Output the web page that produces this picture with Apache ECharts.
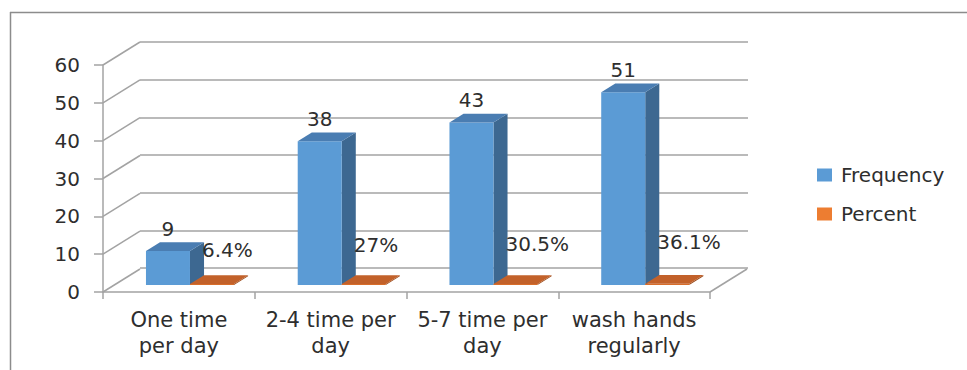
<!DOCTYPE html>
<html>
<head>
<meta charset="utf-8">
<script src="https://cdn.jsdelivr.net/npm/echarts@6/dist/echarts.min.js"></script>
<style>
  html, body { margin: 0; padding: 0; background: #fff; }
  #chart { width: 967px; height: 370px; }
</style>
</head>
<body>
<div id="chart"></div>
<script>
// Hand-washing frequency: counts and shares per category
const categories = ['One time\nper day', '2-4 time per\nday', '5-7 time per\nday', 'wash hands\nregularly'];
const frequency = [9, 38, 43, 51];
const percent = [0.064, 0.27, 0.305, 0.361];
const yTicks = [0, 10, 20, 30, 40, 50, 60];

// Front plane (axes) and back wall of the pseudo-3D box, in pixels
const FRONT = { left: 103, top: 65, width: 607, height: 227 };
const BACK = { left: 140, top: 42, width: 608, height: 226 };
const DX = BACK.left - FRONT.left;
const DY = BACK.top - FRONT.top;
const Z0 = 0.3;        // depth at which the bars stand (fraction of box depth)
const ZD = 0.38;       // bar depth (fraction of box depth)
const BAR_FRAC = 0.29; // bar width as fraction of a category band

const GRID_COLOR = '#a3a3a3';
const TEXT = '#2e2e2e';
const FONT = 'DejaVu Sans';

function barGeom(api, rightSide) {
  const i = api.value(0), v = api.value(1);
  const base = api.coord([i, 0]);
  const top = api.coord([i, v]);
  const w = api.size([1, 0])[0] * BAR_FRAC;
  const x0 = (rightSide ? base[0] : base[0] - w) + DX * Z0;
  return {
    v: v, x0: x0, x1: x0 + w, w: w,
    yb: base[1] + DY * Z0,
    yt: top[1] + DY * Z0,
    dx: DX * ZD, dy: DY * ZD
  };
}

function boxChildren(g, front, side, topC) {
  const h = Math.max(g.yb - g.yt, 1);
  const yt = g.yb - h;
  return [
    { type: 'polygon', shape: { points: [[g.x1, yt], [g.x1 + g.dx, yt + g.dy], [g.x1 + g.dx, g.yb + g.dy], [g.x1, g.yb]] }, style: { fill: side } },
    { type: 'rect', shape: { x: g.x0, y: yt, width: g.w, height: h }, style: { fill: front } },
    { type: 'polygon', shape: { points: [[g.x0, yt], [g.x0 + g.dx, yt + g.dy], [g.x1 + g.dx, yt + g.dy], [g.x1, yt]] }, style: { fill: topC } }
  ];
}

const freqData = frequency.map((v, i) => [i, v]);
const pctData = percent.map((v, i) => [i, v]);
const tickData = yTicks.map(v => [0, v]);

const chart = echarts.init(document.getElementById('chart'), null, { renderer: 'svg' });

chart.setOption({
  backgroundColor: '#fff',
  animation: false,
  textStyle: { fontFamily: FONT, color: TEXT },
  graphic: [
    { type: 'line', shape: { x1: 10, y1: 12.5, x2: 967, y2: 12.5 }, style: { stroke: '#8c8c8c', lineWidth: 1.5 }, silent: true },
    { type: 'line', shape: { x1: 10.5, y1: 12, x2: 10.5, y2: 370 }, style: { stroke: '#8c8c8c', lineWidth: 1.5 }, silent: true }
  ],
  legend: {
    data: ['Frequency', 'Percent'],
    orient: 'vertical',
    left: 812,
    top: 160,
    icon: 'rect',
    itemWidth: 15,
    itemHeight: 13,
    itemGap: 19,
    textStyle: { fontSize: 20, fontFamily: FONT, color: TEXT, padding: [0, 0, 0, 4] }
  },
  grid: [
    { left: FRONT.left, top: FRONT.top, width: FRONT.width, height: FRONT.height },
    { left: BACK.left, top: BACK.top, width: BACK.width, height: BACK.height }
  ],
  xAxis: [
    {
      type: 'category', gridIndex: 0, data: categories,
      axisLine: { show: true, lineStyle: { color: GRID_COLOR, width: 1.5 } },
      axisTick: { show: true, length: 7, lineStyle: { color: GRID_COLOR, width: 1.5 } },
      axisLabel: { fontSize: 21, fontFamily: FONT, color: TEXT, lineHeight: 26, margin: 15, interval: 0 }
    },
    { type: 'category', gridIndex: 1, data: categories, show: false }
  ],
  yAxis: [
    {
      type: 'value', gridIndex: 0, min: 0, max: 60, interval: 10,
      axisLine: { show: true, lineStyle: { color: GRID_COLOR, width: 1.5 } },
      axisTick: { show: true, length: 9, lineStyle: { color: GRID_COLOR, width: 1.5 } },
      axisLabel: { fontSize: 20, fontFamily: FONT, color: TEXT, margin: 23 },
      splitLine: { show: false }
    },
    {
      type: 'value', gridIndex: 1, min: 0, max: 60, interval: 10,
      axisLine: { show: false }, axisTick: { show: false }, axisLabel: { show: false },
      splitLine: { show: true, lineStyle: { color: GRID_COLOR, width: 1.5 } }
    }
  ],
  series: [
    {
      // side-wall and floor edges joining the front axis to the back wall
      name: 'walls', type: 'custom', xAxisIndex: 0, yAxisIndex: 0, silent: true,
      data: tickData, encode: { x: 0, y: 1 }, z: 1,
      renderItem: function (params, api) {
        const cs = params.coordSys;
        const y = api.coord([0, api.value(1)])[1];
        const style = { stroke: GRID_COLOR, lineWidth: 1.5 };
        const children = [{ type: 'line', shape: { x1: cs.x, y1: y, x2: cs.x + DX, y2: y + DY }, style: style }];
        if (api.value(1) === 0) {
          children.push({ type: 'line', shape: { x1: cs.x + cs.width, y1: y, x2: cs.x + cs.width + DX, y2: y + DY }, style: style });
        }
        return { type: 'group', children: children };
      }
    },
    {
      name: 'Frequency', type: 'custom', xAxisIndex: 0, yAxisIndex: 0,
      itemStyle: { color: '#5B9BD5' },
      data: freqData, encode: { x: 0, y: 1 }, z: 3,
      renderItem: function (params, api) {
        const g = barGeom(api, false);
        const children = boxChildren(g, '#5B9BD5', '#3d6891', '#4a7db2');
        children.push({
          type: 'text', x: (g.x0 + g.x1) / 2, y: g.yt - 22,
          style: { text: String(g.v), fill: TEXT, fontSize: 20, fontFamily: FONT, align: 'center', verticalAlign: 'middle' }
        });
        return { type: 'group', children: children };
      }
    },
    {
      name: 'Percent', type: 'custom', xAxisIndex: 0, yAxisIndex: 0,
      itemStyle: { color: '#ED7D31' },
      data: pctData, encode: { x: 0, y: 1 }, z: 3,
      renderItem: function (params, api) {
        const g = barGeom(api, true);
        const children = boxChildren(g, '#d86d2a', '#9c4d1e', '#c2612a');
        const pct = +(g.v * 100).toFixed(1);
        children.push({
          type: 'text', x: g.x0 + 12, y: g.yb - 34 - 0.24 * pct,
          style: { text: pct + '%', fill: TEXT, fontSize: 20, fontFamily: FONT, align: 'left', verticalAlign: 'middle' }
        });
        return { type: 'group', children: children };
      }
    }
  ]
});
</script>
</body>
</html>
